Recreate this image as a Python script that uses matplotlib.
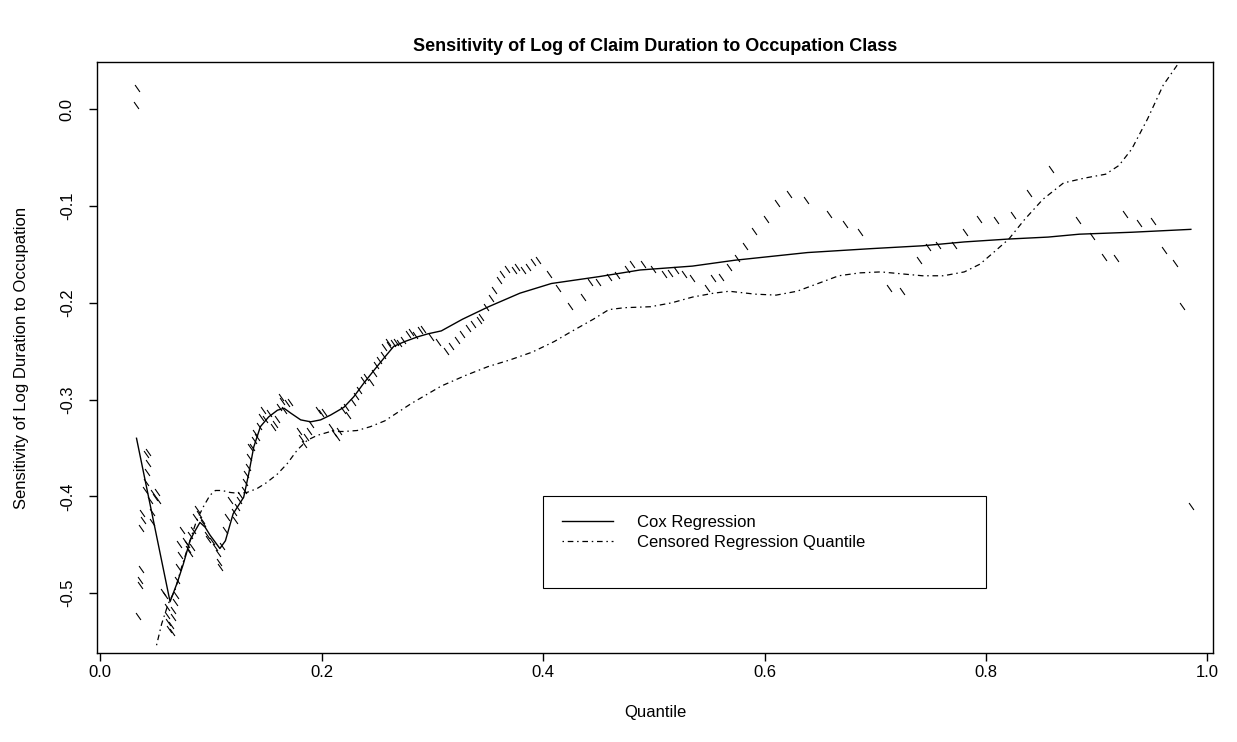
import numpy as np
import matplotlib
matplotlib.use("Agg")
import matplotlib.pyplot as plt
from matplotlib.lines import Line2D

plt.rcParams['font.family'] = ['Liberation Sans', 'DejaVu Sans']
plt.rcParams['axes.unicode_minus'] = False

# Cox regression sensitivity curve
cox_q = [0.0327, 0.063, 0.0696, 0.075, 0.081, 0.084, 0.090, 0.0947, 0.099, 0.108,
         0.113, 0.120, 0.1295, 0.134, 0.1386, 0.1446, 0.152, 0.160, 0.166, 0.172,
         0.181, 0.190, 0.199, 0.208, 0.220, 0.229, 0.238, 0.247, 0.257, 0.265,
         0.275, 0.287, 0.296, 0.308, 0.327, 0.3507, 0.379, 0.4074, 0.4498, 0.4876,
         0.5348, 0.5726, 0.6387, 0.6954, 0.7426, 0.7804, 0.8206, 0.856, 0.8843,
         0.9316, 0.985]
cox_s = [-0.340, -0.509, -0.489, -0.470, -0.446, -0.439, -0.427, -0.432, -0.440, -0.454,
         -0.446, -0.418, -0.401, -0.377, -0.349, -0.328, -0.318, -0.311, -0.309, -0.314,
         -0.321, -0.323, -0.321, -0.316, -0.308, -0.297, -0.283, -0.270, -0.256, -0.245,
         -0.240, -0.235, -0.232, -0.229, -0.217, -0.204, -0.190, -0.180, -0.173, -0.166,
         -0.162, -0.156, -0.148, -0.144, -0.141, -0.137, -0.134, -0.132, -0.129,
         -0.127, -0.124]

# censored regression quantile curve
crq_q = [0.0508, 0.0554, 0.0614, 0.0675, 0.0735, 0.081, 0.087, 0.093, 0.099, 0.104,
         0.110, 0.117, 0.125, 0.1325, 0.1416, 0.150, 0.160, 0.169, 0.178, 0.187,
         0.196, 0.208, 0.220, 0.232, 0.244, 0.257, 0.269, 0.281, 0.293, 0.308,
         0.33, 0.35, 0.37, 0.39, 0.41, 0.425, 0.4452, 0.4593, 0.4735, 0.4971,
         0.516, 0.535, 0.554, 0.568, 0.5915, 0.6104, 0.6293, 0.6482, 0.667, 0.686,
         0.705, 0.7237, 0.7426, 0.7615, 0.7804, 0.7945, 0.8087, 0.8206, 0.8347, 0.8513,
         0.870, 0.889, 0.908, 0.920, 0.9316, 0.9458, 0.960, 0.974, 0.985]
crq_s = [-0.554, -0.532, -0.511, -0.497, -0.473, -0.446, -0.425, -0.411, -0.399, -0.394,
         -0.394, -0.396, -0.397, -0.396, -0.392, -0.386, -0.377, -0.366, -0.352, -0.342,
         -0.337, -0.333, -0.333, -0.332, -0.328, -0.322, -0.313, -0.304, -0.296, -0.286,
         -0.275, -0.266, -0.259, -0.251, -0.240, -0.230, -0.217, -0.207, -0.205, -0.204,
         -0.200, -0.194, -0.190, -0.188, -0.191, -0.192, -0.188, -0.180, -0.172, -0.169,
         -0.168, -0.170, -0.172, -0.172, -0.168, -0.160, -0.146, -0.134, -0.114, -0.093,
         -0.076, -0.071, -0.067, -0.058, -0.041, -0.010, 0.025, 0.048, 0.080]

# pointwise sensitivity estimates
pts_q = [0.033, 0.032, 0.034, 0.0357, 0.0363, 0.0372, 0.0372, 0.0387, 0.038, 0.040,
         0.0417, 0.0424, 0.0433, 0.0411, 0.0433, 0.0448, 0.0463, 0.0478, 0.0493, 0.0508,
         0.0523, 0.0463, 0.0569, 0.0584, 0.0599, 0.0605, 0.0614, 0.0623, 0.0644, 0.0635,
         0.0654, 0.066, 0.0675, 0.0684, 0.0696, 0.0705, 0.072, 0.0714, 0.0735, 0.0766,
         0.078, 0.0796, 0.081, 0.0826, 0.081, 0.0841, 0.0856, 0.0871, 0.0887, 0.0917,
         0.0932, 0.0962, 0.0977, 0.1008, 0.1038, 0.1062, 0.1068, 0.1077, 0.1098, 0.1129,
         0.1144, 0.1168, 0.1204, 0.1219, 0.1235, 0.125, 0.1265, 0.1295, 0.131, 0.1319,
         0.1331, 0.134, 0.1349, 0.1371, 0.1386, 0.1401, 0.1416, 0.1431, 0.1452, 0.147,
         0.1492, 0.1522, 0.1561, 0.1582, 0.1598, 0.1613, 0.1634, 0.1643, 0.166, 0.169,
         0.1713, 0.1794, 0.1815, 0.184, 0.1855, 0.1885, 0.19, 0.1967, 0.1991, 0.2021,
         0.2082, 0.2112, 0.2142, 0.2157, 0.2188, 0.2218, 0.2233, 0.2278, 0.2309, 0.2339,
         0.2369, 0.2399, 0.2445, 0.2475, 0.249, 0.252, 0.2551, 0.2566, 0.2596, 0.2611,
         0.2641, 0.2672, 0.2702, 0.2732, 0.2778, 0.2808, 0.2838, 0.2884, 0.2914, 0.2989,
         0.305, 0.312, 0.317, 0.322, 0.327, 0.332, 0.337, 0.342, 0.3437, 0.3484,
         0.3531, 0.3555, 0.3602, 0.3625, 0.3674, 0.3735, 0.3768, 0.3815, 0.3862, 0.391,
         0.3957, 0.4051, 0.4136, 0.4239, 0.4356, 0.4427, 0.4498, 0.4592, 0.4663, 0.4757,
         0.4804, 0.4898, 0.4992, 0.5087, 0.5148, 0.5204, 0.5274, 0.5345, 0.5477, 0.5534,
         0.5604, 0.568, 0.5751, 0.5821, 0.5906, 0.601, 0.6114, 0.6222, 0.6378, 0.6586,
         0.6728, 0.686, 0.712, 0.7238, 0.7393, 0.7474, 0.7568, 0.771, 0.7814, 0.7932,
         0.8088, 0.8244, 0.8386, 0.8583, 0.8829, 0.896, 0.9065, 0.9174, 0.9254, 0.9386,
         0.9505, 0.9608, 0.9703, 0.9773, 0.985]
pts_s = [0.022, 0.005, -0.524, -0.492, -0.487, -0.475, -0.433, -0.425, -0.417, -0.394,
         -0.385, -0.375, -0.366, -0.356, -0.354, -0.404, -0.416, -0.397, -0.401, -0.396,
         -0.404, -0.427, -0.499, -0.502, -0.514, -0.523, -0.530, -0.537, -0.540, -0.533,
         -0.525, -0.518, -0.509, -0.502, -0.487, -0.473, -0.461, -0.449, -0.435, -0.446,
         -0.449, -0.454, -0.459, -0.452, -0.440, -0.435, -0.421, -0.413, -0.418, -0.425,
         -0.428, -0.440, -0.444, -0.446, -0.452, -0.459, -0.468, -0.473, -0.451, -0.435,
         -0.421, -0.404, -0.416, -0.425, -0.411, -0.404, -0.399, -0.394, -0.385, -0.377,
         -0.370, -0.359, -0.349, -0.349, -0.342, -0.335, -0.339, -0.327, -0.318, -0.311,
         -0.320, -0.314, -0.328, -0.325, -0.320, -0.308, -0.297, -0.301, -0.311, -0.304,
         -0.302, -0.333, -0.340, -0.346, -0.339, -0.333, -0.325, -0.311, -0.314, -0.313,
         -0.328, -0.335, -0.339, -0.332, -0.311, -0.308, -0.316, -0.302, -0.296, -0.290,
         -0.280, -0.277, -0.282, -0.273, -0.264, -0.259, -0.254, -0.246, -0.240, -0.244,
         -0.242, -0.240, -0.242, -0.238, -0.232, -0.230, -0.233, -0.228, -0.227, -0.235,
         -0.240, -0.250, -0.245, -0.238, -0.232, -0.226, -0.222, -0.218, -0.2145, -0.2041,
         -0.1955, -0.1869, -0.1766, -0.1699, -0.1645, -0.1662, -0.1634, -0.1662, -0.1628, -0.1576,
         -0.156, -0.1699, -0.1851, -0.2034, -0.1938, -0.1783, -0.1783, -0.1731, -0.1714, -0.1655,
         -0.160, -0.160, -0.1645, -0.1699, -0.1693, -0.1662, -0.1699, -0.1748, -0.1851, -0.1748,
         -0.1731, -0.1627, -0.1541, -0.141, -0.1255, -0.1128, -0.0966, -0.0879, -0.0938, -0.1083,
         -0.118, -0.1272, -0.1851, -0.1879, -0.1558, -0.1421, -0.1404, -0.1404, -0.1266, -0.1131,
         -0.1145, -0.1093, -0.0869, -0.0621, -0.1145, -0.131, -0.1524, -0.1534, -0.1086, -0.1179,
         -0.1155, -0.1455, -0.1583, -0.203, -0.410]

y_ticks = [-0.5, -0.4, -0.3, -0.2, -0.1, 0.0]
x_ticks = [0.0, 0.2, 0.4, 0.6, 0.8, 1.0]

fig = plt.figure(figsize=(12.37, 7.42), dpi=100)
ax = fig.add_axes([0.0784, 0.12, 0.9022, 0.7964])

# short slanted stroke, like the original tiny point glyphs
stroke = [(-0.35, 0.5), (0.35, -0.5)]
ax.plot(pts_q, pts_s, linestyle='none', marker=stroke, markersize=5,
        markeredgewidth=0.8, color='black', fillstyle='none')
ax.plot(cox_q, cox_s, color='black', lw=1.0)
ax.plot(crq_q, crq_s, color='black', lw=0.9, linestyle=(0, (1.2, 3, 4.5, 3)))

ax.set_xlim(-0.003, 1.005)
ax.set_ylim(-0.562, 0.049)
ax.set_xticks(x_ticks)
ax.set_xticklabels(['%.1f' % v for v in x_ticks])
ax.set_yticks(y_ticks)
ax.set_yticklabels(['%.1f' % v for v in y_ticks], rotation=90, va='center')
ax.tick_params(direction='out', length=6, width=1, labelsize=12)
ax.tick_params(axis='x', pad=3)
ax.tick_params(axis='y', pad=10)
for sp in ax.spines.values():
    sp.set_linewidth(1.0)

ax.set_xlabel('Quantile', fontsize=12, labelpad=18)
ax.set_ylabel('Sensitivity of Log Duration to Occupation', fontsize=12, labelpad=22)
ax.set_title('Sensitivity of Log of Claim Duration to Occupation Class',
             fontsize=13, fontweight='bold', pad=8)

handles = [Line2D([], [], color='black', lw=1.0),
           Line2D([], [], color='black', lw=0.9, linestyle=(0, (1.2, 3, 4.5, 3))),
           Line2D([], [], color='none')]
leg = ax.legend(handles, ['Cox Regression', 'Censored Regression Quantile', ' '],
                loc='upper left', bbox_to_anchor=(0.40, -0.50, 0.40, 0.10),
                bbox_transform=ax.transData, mode='expand', borderaxespad=0,
                fontsize=12, handlelength=3.1, handletextpad=1.4, labelspacing=0.3,
                frameon=True, fancybox=False, edgecolor='black', framealpha=1,
                borderpad=1.1)
leg.get_frame().set_linewidth(0.8)

fig.savefig('out.png', dpi=100)
